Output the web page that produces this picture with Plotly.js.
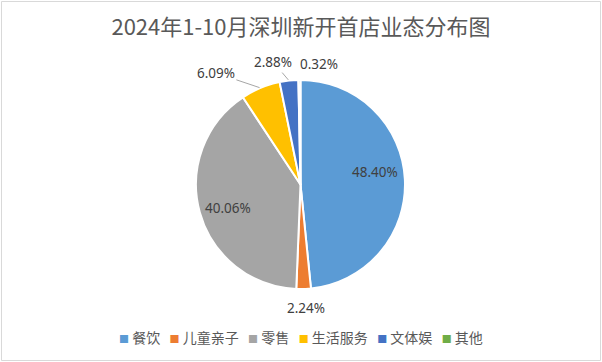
<!DOCTYPE html>
<html>
<head>
<meta charset="utf-8">
<script src="https://cdn.plot.ly/plotly-3.0.1.min.js"></script>
<style>html,body{margin:0;padding:0;background:#fff;}#chart{width:602px;height:362px;}</style>
</head>
<body>
<div id="chart"></div>
<script>
// ---- data ----
const categories = ['餐饮', '儿童亲子', '零售', '生活服务', '文体娱', '其他'];
const shares = [48.40, 2.24, 40.06, 6.09, 2.88, 0.32];
const colors = ['#5B9BD5', '#ED7D31', '#A5A5A5', '#FFC000', '#4472C4', '#70AD47'];
const titleText = '2024年1-10月深圳新开首店业态分布图';

// ---- layout / style config (not data) ----
const W = 602, H = 362;
const CX = 300.5, CY = 184.5, R = 104.5;
// label placement: radial factor of R, angular shift (deg) from slice mid-angle, leader line
const labelPlace = [
  {r: 0.722, dAng: -6.6, line: false},
  {r: 1.18, dAng: -0.8, line: false},
  {r: 0.73, dAng: -2.4, line: false},
  {r: 1.34, dAng: -14.7, line: true},
  {r: 1.20, dAng: -6.2, line: true},
  {r: 1.167, dAng: 9.3, line: false}
];
const labelFont = {family: '"Noto Sans", "Liberation Sans", sans-serif', size: 13.5, color: '#404040'};

const total = shares.reduce((a, b) => a + b, 0);
let cum = 0;
const annotations = [];
shares.forEach((v, i) => {
  const mid = (cum + v / 2) / total * 360;
  cum += v;
  const p = labelPlace[i];
  const phi = (mid + p.dAng) * Math.PI / 180;
  const tx = CX + p.r * R * Math.sin(phi);
  const ty = CY - p.r * R * Math.cos(phi);
  const text = v.toFixed(2) + '%';
  if (p.line) {
    const m = mid * Math.PI / 180;
    const ex = CX + R * Math.sin(m);
    const ey = CY - R * Math.cos(m);
    annotations.push({
      x: ex / W, y: 1 - ey / H, xref: 'paper', yref: 'paper',
      ax: tx - ex, ay: ty - ey, text: text, font: labelFont,
      showarrow: true, arrowhead: 0, arrowwidth: 1, arrowcolor: '#A6A6A6',
      standoff: 1, startstandoff: 0
    });
  } else {
    annotations.push({
      x: tx / W, y: 1 - ty / H, xref: 'paper', yref: 'paper',
      xanchor: 'center', yanchor: 'middle', text: text, font: labelFont, showarrow: false
    });
  }
});

// custom legend as one annotation built from categories & colors
const legendText = categories.map((c, i) =>
  '<span style="color:' + colors[i] + ';font-size:10px">■</span>\u00a0' + c
).join('\u00a0\u00a0\u00a0');
annotations.push({
  x: 301 / W, y: 1 - 337 / H, xref: 'paper', yref: 'paper',
  xanchor: 'center', yanchor: 'middle', showarrow: false,
  text: legendText,
  font: {family: '"Noto Sans CJK SC", sans-serif', size: 14, color: '#595959'}
});

const trace = {
  type: 'pie',
  labels: categories,
  values: shares,
  sort: false,
  direction: 'clockwise',
  rotation: 0,
  marker: {colors: colors, line: {color: '#ffffff', width: 2}},
  textinfo: 'none',
  textposition: 'none',
  hoverinfo: 'label+percent',
  showlegend: false,
  domain: {x: [(CX - R) / W, (CX + R) / W], y: [1 - (CY + R) / H, 1 - (CY - R) / H]}
};

const layout = {
  width: W, height: H,
  margin: {l: 0, r: 0, t: 0, b: 0},
  paper_bgcolor: '#ffffff',
  showlegend: false,
  title: {
    text: titleText, x: 0.5, xanchor: 'center', y: 1 - 27 / H, yanchor: 'middle',
    font: {family: '"Noto Sans CJK SC", sans-serif', size: 22, color: '#595959'}
  },
  annotations: annotations,
  shapes: [{
    type: 'rect', xref: 'paper', yref: 'paper',
    x0: 1.5 / W, x1: 600.5 / W, y0: 1 - 360.5 / H, y1: 1 - 1.5 / H,
    line: {color: '#D9D9D9', width: 1}, fillcolor: 'rgba(0,0,0,0)'
  }]
};

Plotly.newPlot('chart', [trace], layout, {displayModeBar: false, staticPlot: true});
</script>
</body>
</html>
